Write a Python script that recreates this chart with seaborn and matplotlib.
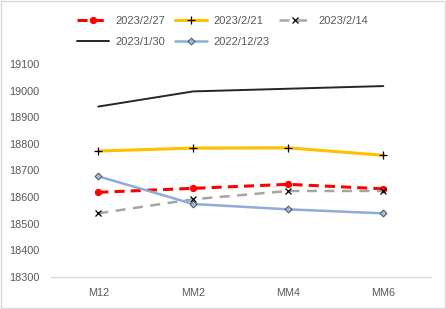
import matplotlib
matplotlib.use("Agg")
import matplotlib.pyplot as plt
import seaborn as sns
import pandas as pd
from matplotlib.patches import Rectangle

categories = ["M12", "MM2", "MM4", "MM6"]
s_0227 = [18618, 18633, 18648, 18631]
s_0221 = [18773, 18784, 18785, 18757]
s_0214 = [18539, 18592, 18623, 18623]
s_0130 = [18940, 18997, 19007, 19017]
s_1223 = [18678, 18574, 18554, 18539]
labels = ["2023/2/27", "2023/2/21", "2023/2/14", "2023/1/30", "2022/12/23"]
yticks = [18300, 18400, 18500, 18600, 18700, 18800, 18900, 19000, 19100]

sns.set_theme(style="white")
plt.rcParams['font.family'] = ['Liberation Sans', 'DejaVu Sans']

fig = plt.figure(figsize=(4.46, 3.09), dpi=100)
ax = fig.add_axes([0.114, 0.1036, 0.852, 0.6894])

styles = [
    dict(color="#FF0000", lw=2.2, ls=(0, (3.3, 2.0)), marker="o", ms=4.5, mfc="#FF0000", mec="#FF0000"),
    dict(color="#FFC000", lw=2.2, ls="-", marker="+", ms=5.5, mfc="black", mec="black", mew=0.9),
    dict(color="#A5A5A5", lw=1.8, ls=(0, (4.0, 3.0)), marker="x", ms=5, mfc="black", mec="black", mew=0.9),
    dict(color="#262626", lw=1.4, ls="-", marker=None),
    dict(color="#8FAADC", lw=1.8, ls="-", marker="D", ms=3.5, mfc="#A9B8CF", mec="#44546A", mew=0.7),
]
series = [s_0227, s_0221, s_0214, s_0130, s_1223]
handles = []
for lab, vals, st in zip(labels, series, styles):
    df = pd.DataFrame({"cat": categories, "val": vals})
    sns.lineplot(data=df, x="cat", y="val", ax=ax, label=lab, sort=False, **st)
    handles.append(ax.get_lines()[-1])

ax.get_legend().remove()
ax.set_xlim(-0.5, 3.5)
ax.set_ylim(18300, 19100)
ax.set_yticks(yticks)
ax.set_xlabel("")
ax.set_ylabel("")
for s in ["top", "right", "left"]:
    ax.spines[s].set_visible(False)
ax.spines["bottom"].set_color("#D9D9D9")
ax.spines["bottom"].set_linewidth(1)
ax.tick_params(axis="both", length=0, labelsize=7.8, colors="#595959")
ax.tick_params(axis="y", pad=8.5)
ax.tick_params(axis="x", pad=8)

order = [0, 3, 1, 4, 2]
fig.legend([handles[i] for i in order], [labels[i] for i in order], ncol=3,
           loc="upper left", bbox_to_anchor=(0.1495, 0.982), frameon=False,
           fontsize=8, labelcolor="#595959", handlelength=2.9,
           columnspacing=0.8, handletextpad=0.63, labelspacing=1.05)

fig.patches.append(Rectangle((0.002, 0.003), 0.996, 0.994, transform=fig.transFigure,
                             fill=False, edgecolor="#D9D9D9", lw=1))
fig.savefig("out.png", dpi=100)
